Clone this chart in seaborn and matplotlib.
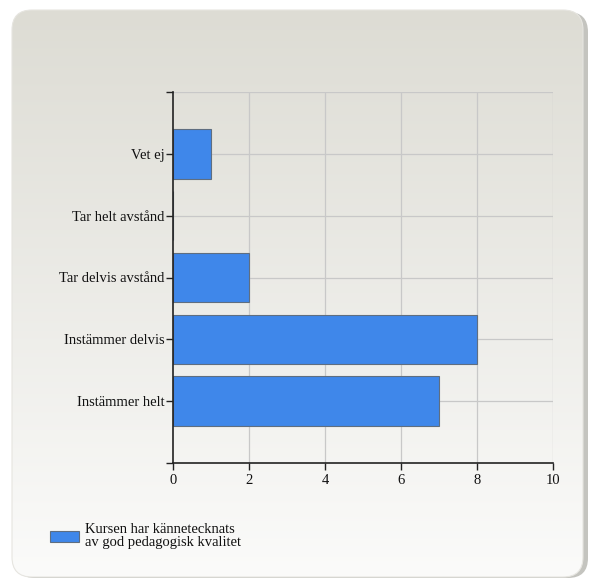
import numpy as np
import pandas as pd
import matplotlib
matplotlib.use("Agg")
import matplotlib.pyplot as plt
from matplotlib.patches import FancyBboxPatch
import seaborn as sns

categories = ["Vet ej", "Tar helt avstånd", "Tar delvis avstånd", "Instämmer delvis", "Instämmer helt"]
counts = [1, 0, 2, 8, 7]
series_name = "Kursen har kännetecknats\nav god pedagogisk kvalitet"
xticks = [0, 2, 4, 6, 8, 10]

df = pd.DataFrame({"svar": categories, "antal": counts})

sns.set_style("white")
plt.rcParams["font.family"] = ["Liberation Serif", "DejaVu Serif"]

fig = plt.figure(figsize=(5.89, 5.80), dpi=100)
W, H = 589, 580

# background panel with rounded corners and vertical gradient
bg = fig.add_axes([0, 0, 1, 1], zorder=-10)
bg.set_xlim(0, W)
bg.set_ylim(0, H)
bg.axis("off")
shadow = FancyBboxPatch((15, 2), 573, 566, boxstyle="round,pad=0,rounding_size=20",
                        facecolor="#c4c4bf", edgecolor="none", zorder=0)
bg.add_patch(shadow)
panel = FancyBboxPatch((12, 3), 571, 567, boxstyle="round,pad=0,rounding_size=20",
                       facecolor="none", edgecolor="#e6e5e0", lw=0.8, zorder=3)
bg.add_patch(panel)
grad = np.linspace(0, 1, 256).reshape(-1, 1)
top_c = np.array([0xdd, 0xdc, 0xd4]) / 255
bot_c = np.array([0xfb, 0xfb, 0xfa]) / 255
img = top_c[None, None, :] * (1 - grad[:, :, None]) + bot_c[None, None, :] * grad[:, :, None]
im = bg.imshow(img, extent=(12, 583, 3, 570), origin="upper", aspect="auto", zorder=2)
im.set_clip_path(panel)
bg.set_xlim(0, W)
bg.set_ylim(0, H)

ax = fig.add_axes([173 / W, 1 - 463 / H, 380 / W, 371 / H])
ax.patch.set_alpha(0)
sns.barplot(data=df, x="antal", y="svar", orient="h", color="#3f87ea",
            edgecolor="#5f6e80", linewidth=0.8, width=0.8, saturation=1, ax=ax)
ax.set_xlim(0, 10)
ax.set_ylim(5, -1)
ax.set_xticks(xticks)
ax.set_xticklabels([str(t) for t in xticks])
ax.set_yticks(range(len(categories)))
ax.set_yticklabels(categories)
ax.set_yticks([-1, 5], minor=True)
ax.set_xlabel("")
ax.set_ylabel("")

for y in range(-1, len(categories)):
    ax.axhline(y, color="#c8c8c8", lw=0.9, zorder=0)
for x in xticks[1:]:
    ax.axvline(x, color="#c8c8c8", lw=0.9, zorder=0)

for s in ["top", "right"]:
    ax.spines[s].set_visible(False)
for s in ["left", "bottom"]:
    ax.spines[s].set_color("#222222")
    ax.spines[s].set_linewidth(1.2)
ax.tick_params(axis="both", which="both", direction="out", length=5, width=1,
               color="#222222", labelsize=10.5, labelcolor="#111111", pad=1,
               left=True, bottom=True)
ax.tick_params(axis="x", which="both", pad=3)

# legend
fig.patches.append(FancyBboxPatch((50 / W, 1 - 542 / H), 29 / W, 11 / H,
                                  boxstyle="square,pad=0", facecolor="#3f87ea",
                                  edgecolor="#5f6e80", lw=0.8, transform=fig.transFigure))
fig.text(85 / W, 1 - 536 / H, series_name, fontsize=10.5, va="center", ha="left",
         linespacing=1.05, color="#111111")

fig.savefig("out.png", dpi=100)
